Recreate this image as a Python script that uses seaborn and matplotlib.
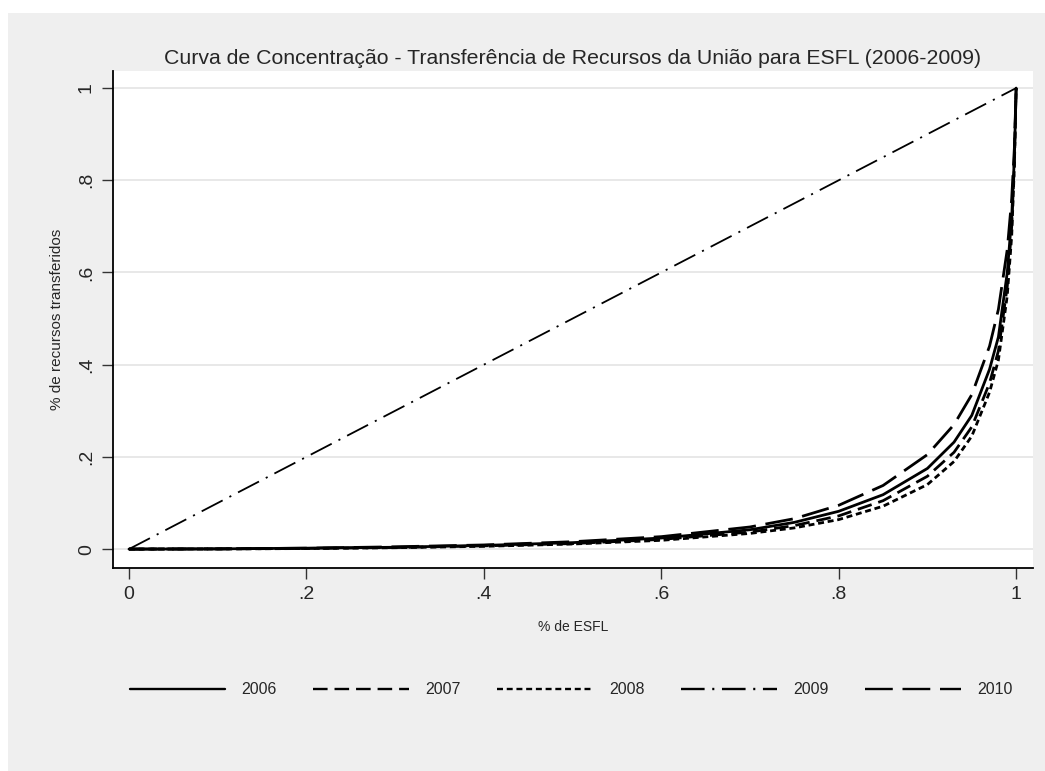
import numpy as np
import pandas as pd
import matplotlib
matplotlib.use("Agg")
import matplotlib.pyplot as plt
import seaborn as sns
from matplotlib.patches import Rectangle

# ---- data ----
share_esfl = [0, .1, .2, .3, .4, .5, .6, .7, .75, .8, .85, .9, .93, .95, .97, .98, .99, .995, .998, 1]
y2006 = [0, .0005, .002, .004, .008, .014, .024, .042, .058, .082, .118, .175, .232, .29, .39, .46, .60, .72, .85, 1]
y2007 = [0, .0004, .0015, .0035, .007, .012, .021, .037, .051, .072, .105, .158, .21, .265, .36, .43, .57, .70, .84, 1]
y2008 = [0, .0003, .0012, .003, .006, .011, .019, .034, .046, .064, .093, .14, .19, .245, .34, .41, .55, .68, .83, 1]
x2009 = [0, 1]
y2009 = [0, 1]
y2010 = [0, .0005, .002, .005, .009, .016, .027, .048, .066, .095, .138, .205, .27, .335, .44, .52, .65, .76, .87, 1]

xticks = [0, .2, .4, .6, .8, 1]
ticklabels = ["0", ".2", ".4", ".6", ".8", "1"]

title = "Curva de Concentração - Transferência de Recursos da União para ESFL (2006-2009)"
xlabel = "% de ESFL"
ylabel = "% de recursos transferidos"

sns.set_theme(style="white")
plt.rcParams['font.family'] = ['Liberation Sans', 'DejaVu Sans']
plt.rcParams['lines.scale_dashes'] = False

fig = plt.figure(figsize=(10.45, 7.71), dpi=100, facecolor="white")
bg = Rectangle((8 / 1045, 0), 1 - 8 / 1045, 1 - 13 / 771, transform=fig.transFigure,
               facecolor="#efefef", edgecolor="none", zorder=-10)
fig.patches.append(bg)

ax = fig.add_axes([113 / 1045, 1 - 568 / 771, (1033 - 113) / 1045, (568 - 71) / 771])
ax.set_facecolor("white")

styles = {
    "2006": dict(linestyle="-", lw=2.0),
    "2007": dict(linestyle=(0, (10.5, 5)), lw=2.0),
    "2008": dict(linestyle=(0, (4.3, 2.7)), lw=2.0),
    "2009": dict(linestyle=(0, (17, 5.5, 1.5, 5.5)), lw=1.3),
    "2010": dict(linestyle=(0, (20, 7)), lw=2.0),
}
series = [
    ("2006", share_esfl, y2006),
    ("2007", share_esfl, y2007),
    ("2008", share_esfl, y2008),
    ("2009", x2009, y2009),
    ("2010", share_esfl, y2010),
]
handles = []
for name, xs, ys in series:
    df = pd.DataFrame({"x": xs, "y": ys})
    sns.lineplot(data=df, x="x", y="y", ax=ax, color="black", errorbar=None,
                 label=name, **styles[name])
    handles.append(ax.lines[-1])
ax.get_legend().remove()

ax.set_xlim(-0.018, 1.019)
ax.set_ylim(-0.041, 1.037)
ax.set_xticks(xticks)
ax.set_xticklabels(ticklabels)
ax.set_yticks(xticks)
ax.set_yticklabels(ticklabels, rotation=90, va="center")
ax.grid(axis="y", color="#e6e6e6", lw=1.3)
ax.grid(axis="x", visible=False)
ax.set_axisbelow(True)
for s in ["top", "right"]:
    ax.spines[s].set_visible(False)
for s in ["left", "bottom"]:
    ax.spines[s].set_color("black")
    ax.spines[s].set_linewidth(1.3)
ax.tick_params(axis="both", which="major", direction="out", length=8, width=1,
               color="#333333", labelsize=14, pad=5, left=True, bottom=True)
ax.set_xlabel(xlabel, fontsize=10, labelpad=12)
ax.set_ylabel(ylabel, fontsize=11, labelpad=10)
ax.set_title(title, fontsize=15.3, pad=5)

leg = fig.legend(handles=handles, labels=[s[0] for s in series], loc="center",
                 bbox_to_anchor=(571 / 1045, 1 - 690 / 771), ncol=5, frameon=False,
                 fontsize=11.5, handlelength=6.0, handletextpad=1.0, columnspacing=2.3)
for l in leg.get_lines():
    l.set_linewidth(1.7)

fig.savefig("out.png", dpi=100, facecolor=fig.get_facecolor())
